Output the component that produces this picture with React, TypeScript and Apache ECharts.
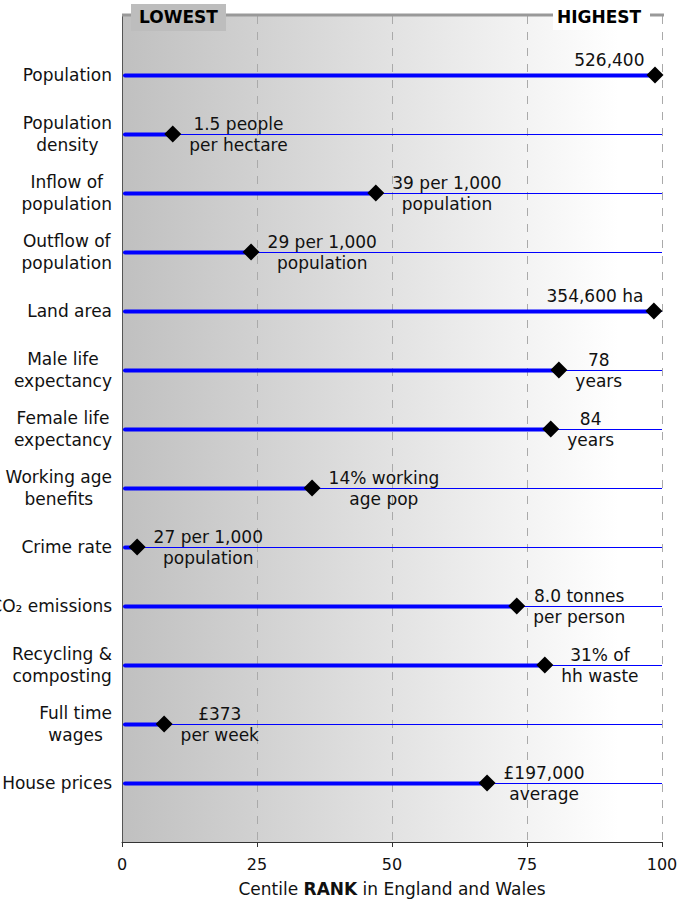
import React, { useEffect, useRef } from "react";
import * as echarts from "echarts";

const categories = [
  "Population",
  "Population\ndensity",
  "Inflow of\npopulation",
  "Outflow of\npopulation",
  "Land area",
  "Male life\nexpectancy",
  "Female life\nexpectancy",
  "Working age\nbenefits",
  "Crime rate",
  "CO₂ emissions",
  "Recycling &\ncomposting",
  "Full time\nwages",
  "House prices",
];

const centileRank = [98.7, 9.4, 47.0, 23.9, 98.5, 80.9, 79.4, 35.2, 2.8, 73.1, 78.3, 7.8, 67.6];

const valueLabels = [
  "526,400",
  "1.5 people\nper hectare",
  "39 per 1,000\npopulation",
  "29 per 1,000\npopulation",
  "354,600 ha",
  "78\nyears",
  "84\nyears",
  "14% working\nage pop",
  "27 per 1,000\npopulation",
  "8.0 tonnes\nper person",
  "31% of\nhh waste",
  "£373\nper week",
  "£197,000\naverage",
];

const xTicks = [0, 25, 50, 75, 100];

const FONT = "DejaVu Sans";
const FS = 17;

const richLines = (s: string) =>
  s
    .split("\n")
    .map((l) => `{c|${l}}`)
    .join("\n");

export default function App() {
  const ref = useRef<HTMLDivElement>(null);

  useEffect(() => {
    if (!ref.current) return;
    const chart = echarts.init(ref.current, undefined, { renderer: "svg" });

    const yCats = ["", ...categories, ""];
    const pointData = centileRank.map((r, i) => {
      const nearEnd = r > 95;
      return {
        value: [r, i + 1],
        label: nearEnd
          ? { position: "left", distance: 2, offset: [0, -15] }
          : { position: "right", distance: 8 },
      };
    });

    const option: any = {
      animation: false,
      textStyle: { fontFamily: FONT },
      grid: {
        left: 122,
        right: 18,
        top: 16,
        bottom: 59,
        containLabel: false,
        outerBoundsMode: "none",
        show: true,
        borderWidth: 0,
        backgroundColor: new echarts.graphic.LinearGradient(0, 0, 1, 0, [
          { offset: 0, color: "#c0c0c0" },
          { offset: 0.92, color: "#ffffff" },
          { offset: 1, color: "#ffffff" },
        ]),
      },
      xAxis: {
        type: "value",
        min: xTicks[0],
        max: xTicks[xTicks.length - 1],
        interval: 25,
        axisLine: { show: true, lineStyle: { color: "#333", width: 1 } },
        axisTick: { show: true, length: 5, lineStyle: { color: "#333" } },
        axisLabel: { color: "#111", fontSize: 16, margin: 14, fontFamily: FONT },
        splitLine: { show: true, lineStyle: { color: "#aaa", type: [8, 8], width: 1 } },
        name: "{n|Centile }{b|RANK}{n| in England and Wales}",
        nameLocation: "middle",
        nameGap: 38,
        nameTextStyle: {
          rich: {
            n: { fontSize: FS, color: "#111", fontFamily: FONT },
            b: { fontSize: FS, color: "#111", fontWeight: "bold", fontFamily: FONT },
          },
        },
      },
      yAxis: {
        type: "category",
        data: yCats,
        inverse: true,
        boundaryGap: false,
        axisLine: { show: true, lineStyle: { color: "#555", width: 1 } },
        axisTick: { show: false },
        splitLine: { show: false },
        axisLabel: {
          interval: 0,
          margin: 10,
          color: "#111",
          formatter: (v: string) => (v ? richLines(v) : ""),
          rich: {
            c: { align: "center", fontSize: FS, lineHeight: 22, color: "#111", fontFamily: FONT },
          },
        },
      },
      graphic: [
        {
          type: "line",
          z: 10,
          shape: { x1: 122, y1: 15, x2: 664, y2: 15 },
          style: { stroke: "#999", lineWidth: 3 },
        },
        {
          type: "rect",
          z: 11,
          shape: { x: 131, y: 4, width: 95, height: 27 },
          style: { fill: "#bdbdbd" },
        },
        {
          type: "text",
          z: 12,
          x: 139,
          y: 17,
          style: {
            text: "LOWEST",
            fill: "#000",
            font: `bold ${FS}px ${FONT}`,
            verticalAlign: "middle",
          },
        },
        {
          type: "rect",
          z: 11,
          shape: { x: 553, y: 4, width: 97, height: 26 },
          style: { fill: "#ffffff" },
        },
        {
          type: "text",
          z: 12,
          x: 557,
          y: 17,
          style: {
            text: "HIGHEST",
            fill: "#000",
            font: `bold ${FS}px ${FONT}`,
            verticalAlign: "middle",
          },
        },
      ],
      series: [
        {
          type: "custom",
          data: centileRank.map((r, i) => [r, i + 1]),
          renderItem: (_params: any, api: any) => {
            const idx = api.value(1);
            const p0 = api.coord([0, idx]);
            const p1 = api.coord([api.value(0), idx]);
            const p100 = api.coord([100, idx]);
            const y = Math.round(p0[1]) + 0.5;
            return {
              type: "group",
              children: [
                {
                  type: "line",
                  shape: { x1: p1[0], y1: y, x2: p100[0], y2: y },
                  style: { stroke: "#0000ff", lineWidth: 1 },
                },
                {
                  type: "line",
                  shape: { x1: p0[0] + 3, y1: y, x2: p1[0], y2: y },
                  style: { stroke: "#0000ff", lineWidth: 4, lineCap: "round" },
                },
              ],
            };
          },
          z: 3,
        },
        {
          type: "scatter",
          data: pointData,
          symbol: "diamond",
          symbolSize: 17,
          itemStyle: { color: "#000", opacity: 1 },
          z: 5,
          label: {
            show: true,
            color: "#111",
            textBorderWidth: 0,
            formatter: (p: any) => richLines(valueLabels[p.dataIndex]),
            rich: {
              c: { align: "center", fontSize: FS, lineHeight: 21, color: "#111", fontFamily: FONT },
            },
          },
        },
      ],
    };

    chart.setOption(option);
    return () => chart.dispose();
  }, []);

  return (
    <div
      ref={ref}
      style={{ position: "absolute", left: 0, top: 0, width: 680, height: 901 }}
    />
  );
}
